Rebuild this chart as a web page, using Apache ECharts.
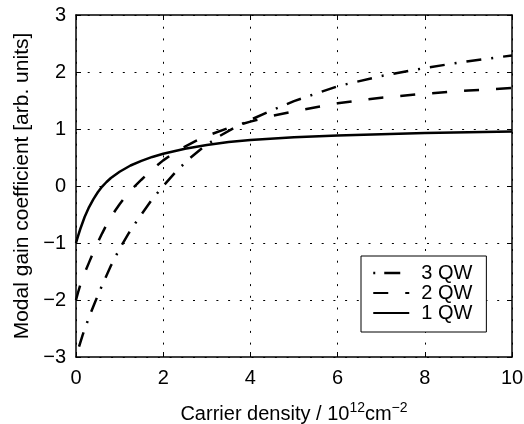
<!DOCTYPE html>
<html>
<head>
<meta charset="utf-8">
<script src="https://cdn.jsdelivr.net/npm/echarts@6/dist/echarts.min.js"></script>
<style>
html,body{margin:0;padding:0;background:#fff;}
#chart{width:524px;height:424px;}
</style>
</head>
<body>
<div id="chart"></div>
<script>
// ---- data ----
const qw1X = [0, 0.05, 0.1, 0.2, 0.3, 0.4, 0.5, 0.6, 0.7, 0.8, 1.0, 1.25, 1.5, 1.75, 2, 2.5, 3, 3.5, 4, 5, 6, 7, 8, 9, 10];
const qw1Y = [-1.0, -0.87, -0.75, -0.54, -0.37, -0.23, -0.11, -0.01, 0.07, 0.14, 0.25, 0.36, 0.44, 0.51, 0.565, 0.655, 0.72, 0.77, 0.805, 0.855, 0.885, 0.91, 0.93, 0.945, 0.955];

const qw2X = [0, 0.05, 0.1, 0.15, 0.2, 0.3, 0.4, 0.5, 0.6, 0.7, 0.8, 0.9, 1.0, 1.1, 1.2, 1.3, 1.5, 1.75, 2, 2.25, 2.5, 2.75, 3, 3.5, 4, 4.5, 5, 6, 7, 8, 9, 10];
const qw2Y = [-2.0, -1.86, -1.73, -1.62, -1.52, -1.34, -1.16, -0.99, -0.83, -0.68, -0.55, -0.43, -0.32, -0.22, -0.13, -0.04, 0.11, 0.29, 0.45, 0.58, 0.69, 0.79, 0.88, 1.02, 1.13, 1.23, 1.31, 1.45, 1.55, 1.62, 1.675, 1.72];

const qw3X = [0.07, 0.15, 0.2, 0.3, 0.42, 0.5, 0.6, 0.7, 0.8, 0.9, 1.0, 1.1, 1.2, 1.3, 1.4, 1.5, 1.75, 2, 2.3, 2.6, 2.9, 3.3, 3.7, 4, 4.5, 5, 5.5, 6, 7, 8, 9, 10];
const qw3Y = [-2.82, -2.62, -2.51, -2.3, -2.07, -1.92, -1.74, -1.57, -1.4, -1.25, -1.1, -0.97, -0.84, -0.72, -0.61, -0.5, -0.23, 0.0, 0.26, 0.48, 0.67, 0.88, 1.05, 1.16, 1.33, 1.49, 1.62, 1.75, 1.93, 2.07, 2.19, 2.29];

const seriesNames = ['1 QW', '2 QW', '3 QW'];
const legendOrder = ['3 QW', '2 QW', '1 QW'];
const xTickLabels = ['0', '2', '4', '6', '8', '10'];
const yTickLabels = ['\u22123', '\u22122', '\u22121', '0', '1', '2', '3'];
const xTitle = ['Carrier density / 10', '12', 'cm', '\u22122'];
const yTitle = 'Modal gain coefficient [arb. units]';

// ---- chart ----
const pairs = (xs, ys) => xs.map((x, i) => [x, ys[i]]);
const FONT = 'Liberation Sans, Arial, Helvetica, sans-serif';
const chart = echarts.init(document.getElementById('chart'), null, {renderer: 'canvas'});

const xLabelFmt = v => xTickLabels[Math.round(v / 2)] ?? '';
const yLabelFmt = v => yTickLabels[Math.round(v + 3)] ?? '';

const axisLine = {show: true, onZero: false, lineStyle: {color: '#000', width: 1.5}};
const tick = {show: true, inside: true, length: 5, lineStyle: {color: '#000', width: 1}};
const grid = {show: true, lineStyle: {color: '#000', width: 1, type: [2, 9.7]}};

const lineBase = {type: 'line', showSymbol: false, symbol: 'none', smooth: false,
  clip: true, animation: false};

chart.setOption({
  animation: false,
  backgroundColor: '#fff',
  grid: {left: 76, right: 12, top: 15, bottom: 67, containLabel: false, outerBoundsMode: 'none'},
  xAxis: [{
    type: 'value', min: 0, max: 10, interval: 2, position: 'bottom',
    axisLine, axisTick: tick, splitLine: grid,
    axisLabel: {formatter: xLabelFmt, color: '#000', fontSize: 20, fontFamily: FONT, margin: 11},
    name: `{a|${xTitle[0]}}{s|${xTitle[1]}}{a|${xTitle[2]}}{s|${xTitle[3]}}`,
    nameLocation: 'middle', nameGap: 44,
    nameTextStyle: {
      color: '#000', fontFamily: FONT,
      rich: {
        a: {fontSize: 20, fontFamily: FONT, color: '#000', lineHeight: 26},
        s: {fontSize: 14, fontFamily: FONT, color: '#000', padding: [0, 0, 11, 0], lineHeight: 26}
      }
    }
  }, {
    type: 'value', min: 0, max: 10, interval: 2, position: 'top',
    axisLine, axisTick: tick, splitLine: {show: false}, axisLabel: {show: false}
  }],
  yAxis: [{
    type: 'value', min: -3, max: 3, interval: 1, position: 'left',
    axisLine, axisTick: tick, splitLine: grid,
    axisLabel: {formatter: yLabelFmt, color: '#000', fontSize: 20, fontFamily: FONT, margin: 10},
    name: yTitle, nameLocation: 'middle', nameGap: 35,
    nameTextStyle: {color: '#000', fontSize: 21, fontFamily: FONT}
  }, {
    type: 'value', min: -3, max: 3, interval: 1, position: 'right',
    axisLine, axisTick: tick, splitLine: {show: false}, axisLabel: {show: false}
  }],
  legend: {
    orient: 'vertical', left: 361, top: 256,
    backgroundColor: '#fff', borderColor: '#000', borderWidth: 1, borderRadius: 0,
    padding: [7, 14, 9, 11],
    itemWidth: 36, itemHeight: 20, itemGap: 0,
    itemStyle: {color: 'rgba(0,0,0,0)', borderWidth: 0, opacity: 0},
    textStyle: {color: '#000', fontSize: 20, fontFamily: FONT, padding: [0, 0, 0, 7]},
    data: [
      {name: legendOrder[0], lineStyle: {type: [2, 9, 16, 10], width: 2.5, color: '#000'}},
      {name: legendOrder[1]},
      {name: legendOrder[2]}
    ]
  },
  series: [
    Object.assign({}, lineBase, {name: seriesNames[0], data: pairs(qw1X, qw1Y),
      lineStyle: {color: '#000', width: 2.5, type: 'solid', cap: 'butt'}, itemStyle: {color: '#000'}}),
    Object.assign({}, lineBase, {name: seriesNames[1], data: pairs(qw2X, qw2Y),
      lineStyle: {color: '#000', width: 2.5, type: [15, 17], cap: 'butt'}, itemStyle: {color: '#000'}}),
    Object.assign({}, lineBase, {name: seriesNames[2], data: pairs(qw3X, qw3Y),
      lineStyle: {color: '#000', width: 2.5, type: [15, 10, 2, 10], cap: 'butt'}, itemStyle: {color: '#000'}})
  ]
});
</script>
</body>
</html>
